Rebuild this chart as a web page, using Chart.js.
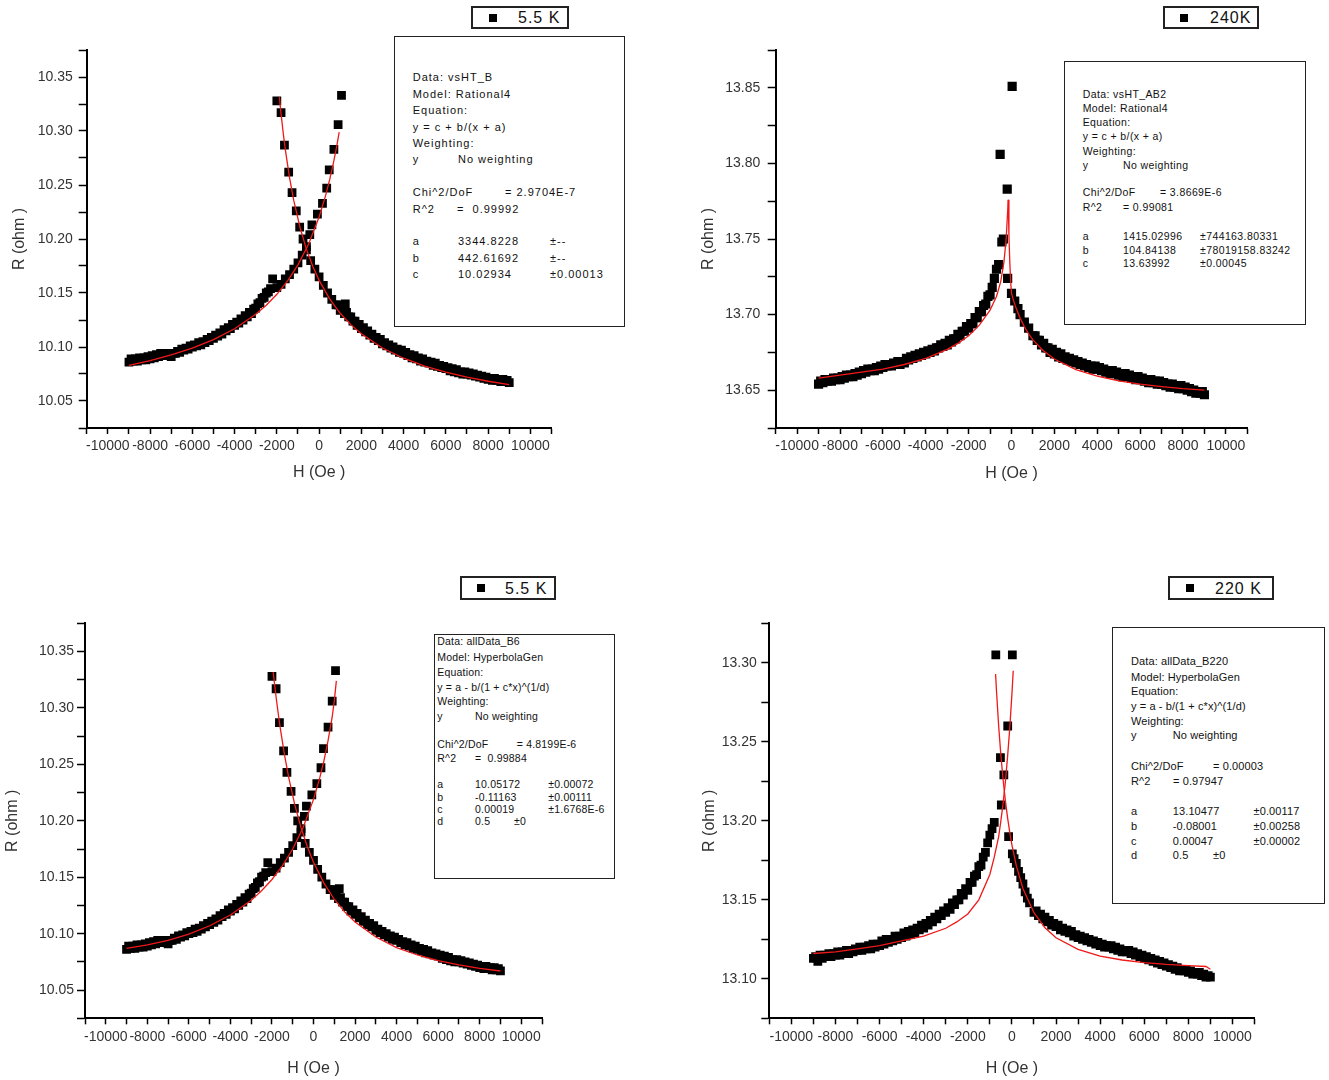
<!DOCTYPE html>
<html><head><meta charset="utf-8">
<script src="https://cdn.jsdelivr.net/npm/chart.js@4.4.1/dist/chart.umd.min.js"></script>
<style>
html,body{margin:0;padding:0;background:#fff;}
body{width:1329px;height:1080px;position:relative;overflow:hidden;font-family:"Liberation Sans",Arial,sans-serif;}
canvas{position:absolute;}
.box{position:absolute;border:1.5px solid #222;background:#fff;box-sizing:border-box;}
.leg{position:absolute;border:2px solid #222;background:#fff;box-sizing:border-box;}
.t{position:absolute;white-space:pre;color:#111;line-height:1;}
.sq{position:absolute;background:#000;}
</style></head><body>
<script>
// ---------- DATA ----------
// Panel 1 & 3 (5.5 K): field sweep up (rising branch) and sweep down (falling branch)
const p1RiseH = [-9000,-8800,-8600,-8400,-8200,-8000,-7800,-7600,-7400,-7200,-7000,-6800,-6600,-6400,-6200,-6000,-5800,-5600,-5400,-5200,-5000,-4800,-4600,-4400,-4200,-4000,-3800,-3600,-3400,-3200,-3000,-2800,-2600,-2400,-2200,-2000,-1800,-1600,-1400,-1200,-1000,-800,-600,-440,-340,-80,160,360,480,700,900,1060];
const p1RiseR = [10.086,10.087,10.087,10.088,10.088,10.089,10.090,10.091,10.092,10.092,10.091,10.094,10.095,10.097,10.098,10.100,10.101,10.102,10.104,10.106,10.108,10.110,10.112,10.115,10.117,10.120,10.122,10.125,10.128,10.131,10.136,10.141,10.146,10.151,10.163,10.155,10.158,10.163,10.167,10.172,10.178,10.185,10.193,10.204,10.213,10.223,10.233,10.247,10.264,10.283,10.306,10.333];
const p1Rise2H = [-8900,-8700,-8500,-8300,-8100,-7900,-7700,-7500,-7300,-7100,-6900,-6700,-6500,-6300,-6100,-5900,-5700,-5500,-5300,-5100,-4900,-4700,-4500,-4300,-4100,-3900,-3700,-3500,-3300,-3100,-2900,-2700,-2500,-2300];
const p1Rise2R = [10.089,10.089,10.090,10.090,10.091,10.092,10.093,10.094,10.094,10.093,10.094,10.096,10.098,10.099,10.101,10.102,10.104,10.105,10.107,10.109,10.111,10.113,10.116,10.118,10.121,10.123,10.126,10.129,10.132,10.135,10.140,10.145,10.150,10.154];
const p1FallH = [9000,8800,8600,8400,8200,8000,7800,7600,7400,7200,7000,6800,6600,6400,6200,6000,5800,5600,5400,5200,5000,4800,4600,4400,4200,4000,3800,3600,3400,3200,3000,2800,2600,2400,2200,2000,1800,1600,1400,1240,1200,1000,800,600,400,200,0,-200,-400,-600,-760,-920,-1080,-1280,-1440,-1640,-1800,-2000];
const p1FallR = [10.067,10.068,10.068,10.069,10.069,10.070,10.071,10.072,10.073,10.074,10.075,10.075,10.076,10.077,10.078,10.080,10.081,10.082,10.083,10.085,10.086,10.087,10.089,10.090,10.092,10.094,10.095,10.097,10.099,10.101,10.103,10.106,10.108,10.111,10.114,10.117,10.120,10.124,10.128,10.140,10.131,10.134,10.139,10.144,10.150,10.157,10.165,10.172,10.180,10.190,10.200,10.211,10.226,10.243,10.262,10.287,10.317,10.328];
const p1Fall2H = [8900,8700,8500,8300,8100,7900,7700,7500,7300,7100,6900,6700,6500,6300,6100,5900,5700,5500,5300,5100,4900,4700,4500,4300,4100,3900,3700,3500,3300,3100,2900,2700,2500,2300,2100,1900,1700,1500,1300,1100,900];
const p1Fall2R = [10.069,10.070,10.070,10.071,10.071,10.072,10.073,10.074,10.075,10.076,10.077,10.077,10.079,10.080,10.081,10.082,10.083,10.085,10.086,10.087,10.089,10.090,10.092,10.093,10.095,10.097,10.098,10.100,10.102,10.104,10.107,10.109,10.112,10.115,10.118,10.121,10.124,10.128,10.132,10.135,10.139];
// Panel 1 fit curves (Rational4)
const p1FitRiseH = [-9000,-8000,-7000,-6000,-5000,-4000,-3000,-2500,-2000,-1500,-1000,-500,0,300,500,700,800,900,950];
const p1FitRiseR = [10.0830,10.0874,10.0926,10.0989,10.1068,10.1169,10.1303,10.1387,10.1488,10.1610,10.1761,10.1952,10.2204,10.2397,10.2549,10.2725,10.2824,10.2932,10.2990];
const p1FitFallH = [9000,8000,7000,6000,5000,4000,3000,2000,1500,1000,500,0,-300,-600,-900,-1200,-1400,-1600,-1700,-1800,-1850,-1880];
const p1FitFallR = [10.0652,10.0683,10.0721,10.0767,10.0824,10.0896,10.0991,10.1122,10.1207,10.1312,10.1445,10.1617,10.1747,10.1906,10.2104,10.2357,10.2569,10.2830,10.2984,10.3158,10.3254,10.3315];
// Panel 3 fit curves (HyperbolaGen), same measured data as panel 1
const p3FitRiseH = [-9000,-8000,-7000,-6000,-5000,-4000,-3000,-2500,-2000,-1500,-1000,-500,0,300,500,700,900,1000,1100];
const p3FitRiseR = [10.087,10.090,10.094,10.0995,10.107,10.1165,10.1295,10.138,10.148,10.160,10.175,10.194,10.219,10.238,10.253,10.271,10.292,10.306,10.324];
const p3FitFallH = [9000,8000,7000,6000,5000,4000,3000,2000,1500,1000,500,0,-300,-600,-900,-1200,-1400,-1600,-1700,-1800,-1870,-1940];
const p3FitFallR = [10.0669,10.0693,10.0723,10.0761,10.0811,10.0877,10.0970,10.1103,10.1193,10.1305,10.1448,10.1633,10.1772,10.1939,10.2141,10.2390,10.2589,10.2821,10.2953,10.3095,10.3203,10.3317];
// Panel 2 (240 K)
const p2H = [-9000,-8800,-8600,-8400,-8200,-8000,-7800,-7600,-7400,-7200,-7000,-6800,-6600,-6400,-6200,-6000,-5800,-5600,-5400,-5200,-5000,-4800,-4600,-4400,-4200,-4000,-3800,-3600,-3400,-3200,-3000,-2800,-2600,-2400,-2200,-2000,-1800,-1600,-1400,-1200,-1000,-900,-800,-700,-600,-530,-450,-380,-200,-180,0,30,150,300,400,600,800,1000,1200,1400,1600,1800,2000,2200,2400,2600,2800,3000,3200,3400,3600,3800,4000,4200,4400,4600,4800,5000,5200,5400,5600,5800,6000,6200,6400,6600,6800,7000,7200,7400,7600,7800,8000,8200,8400,8600,8800,9000];
const p2R = [13.654,13.655,13.656,13.656,13.657,13.657,13.658,13.659,13.659,13.660,13.661,13.662,13.663,13.663,13.664,13.665,13.666,13.666,13.667,13.667,13.668,13.670,13.671,13.672,13.673,13.674,13.675,13.676,13.678,13.679,13.680,13.682,13.684,13.686,13.689,13.691,13.694,13.698,13.702,13.707,13.713,13.718,13.724,13.730,13.733,13.806,13.748,13.750,13.783,13.724,13.714,13.851,13.709,13.704,13.700,13.695,13.691,13.686,13.683,13.680,13.678,13.675,13.674,13.672,13.671,13.670,13.669,13.668,13.667,13.666,13.665,13.664,13.664,13.663,13.662,13.661,13.661,13.660,13.659,13.659,13.658,13.657,13.657,13.656,13.655,13.655,13.654,13.654,13.653,13.652,13.652,13.651,13.651,13.650,13.649,13.648,13.648,13.647];
const p2SecondH = [-8900,-8700,-8500,-8300,-8100,-7900,-7700,-7500,-7300,-7100,-6900,-6700,-6500,-6300,-6100,-5900,-5700,-5500,-5300,-5100,-4900,-4700,-4500,-4300,-4100,-3900,-3700,-3500,-3300,-3100,-2900,-2700,-2500,-2300,-2100,-1900,-1700,-1500,-1300,-1100,1100,1300,1500,1700,1900,2100,2300,2500,2700,2900,3100,3300,3500,3700,3900,4100,4300,4500,4700,4900,5100,5300,5500,5700,5900,6100,6300,6500,6700,6900,7100,7300,7500,7700,7900,8100,8300,8500,8700,8900];
const p2SecondR = [13.656,13.657,13.657,13.658,13.658,13.659,13.660,13.660,13.661,13.662,13.663,13.664,13.664,13.665,13.666,13.667,13.667,13.668,13.669,13.669,13.671,13.672,13.673,13.674,13.675,13.676,13.677,13.678,13.680,13.681,13.683,13.684,13.687,13.689,13.692,13.694,13.698,13.702,13.706,13.712,13.686,13.683,13.681,13.678,13.677,13.675,13.674,13.672,13.671,13.670,13.669,13.668,13.667,13.666,13.666,13.665,13.664,13.663,13.663,13.662,13.661,13.661,13.660,13.659,13.659,13.658,13.657,13.657,13.656,13.656,13.655,13.654,13.654,13.653,13.653,13.652,13.651,13.650,13.649,13.649];
const p2FitLeftH = [-9000,-8000,-7000,-6000,-5000,-4000,-3000,-2500,-2000,-1500,-1000,-700,-500,-350,-250,-180,-150];
const p2FitLeftR = [13.658,13.660,13.662,13.664,13.667,13.671,13.677,13.681,13.686,13.693,13.703,13.712,13.722,13.735,13.750,13.768,13.776];
const p2FitRightH = [-150,-120,-80,-40,0,100,200,400,600,800,1000,1500,2000,3000,4000,5000,6000,7000,8000,9000];
const p2FitRightR = [13.776,13.752,13.735,13.722,13.714,13.7091,13.7048,13.6977,13.6919,13.6872,13.6833,13.6759,13.6706,13.6636,13.6593,13.6562,13.6540,13.6524,13.6510,13.6500];
// Panel 4 (220 K)
const p4H = [-9000,-8800,-8600,-8400,-8200,-8000,-7800,-7600,-7400,-7200,-7000,-6800,-6600,-6400,-6200,-6000,-5800,-5600,-5400,-5200,-5000,-4800,-4600,-4400,-4200,-4000,-3800,-3600,-3400,-3200,-3000,-2800,-2600,-2400,-2200,-2000,-1800,-1600,-1400,-1200,-1000,-900,-800,-730,-520,-480,-365,-190,20,-150,20,100,200,300,400,500,600,700,800,1000,1200,1400,1600,1800,2000,2200,2400,2600,2800,3000,3200,3400,3600,3800,4000,4200,4400,4600,4800,5000,5200,5400,5600,5800,6000,6200,6400,6600,6800,7000,7200,7400,7600,7800,8000,8200,8400,8600,8800,9000];
const p4R = [13.113,13.111,13.113,13.114,13.114,13.115,13.115,13.116,13.116,13.117,13.118,13.118,13.119,13.119,13.120,13.121,13.122,13.123,13.124,13.125,13.126,13.127,13.128,13.129,13.131,13.132,13.134,13.136,13.138,13.140,13.142,13.144,13.147,13.150,13.153,13.156,13.161,13.166,13.172,13.180,13.191,13.195,13.199,13.305,13.240,13.210,13.229,13.260,13.305,13.190,13.179,13.176,13.173,13.168,13.164,13.160,13.155,13.151,13.148,13.142,13.140,13.138,13.136,13.134,13.133,13.131,13.130,13.129,13.127,13.126,13.125,13.124,13.123,13.122,13.121,13.120,13.120,13.119,13.118,13.117,13.117,13.116,13.115,13.114,13.113,13.112,13.111,13.110,13.109,13.108,13.107,13.106,13.105,13.105,13.104,13.103,13.103,13.102,13.101,13.101];
const p4SecondH = [-8900,-8700,-8500,-8300,-8100,-7900,-7700,-7500,-7300,-7100,-6900,-6700,-6500,-6300,-6100,-5900,-5700,-5500,-5300,-5100,-4900,-4700,-4500,-4300,-4100,-3900,-3700,-3500,-3300,-3100,-2900,-2700,-2500,-2300,-2100,-1900,-1700,-1500,-1300,-1100,1100,1300,1500,1700,1900,2100,2300,2500,2700,2900,3100,3300,3500,3700,3900,4100,4300,4500,4700,4900,5100,5300,5500,5700,5900,6100,6300,6500,6700,6900,7100,7300,7500,7700,7900,8100,8300,8500,8700,8900];
const p4SecondR = [13.114,13.115,13.115,13.116,13.116,13.117,13.117,13.118,13.118,13.119,13.120,13.120,13.121,13.122,13.122,13.124,13.125,13.125,13.127,13.127,13.129,13.130,13.131,13.132,13.134,13.135,13.137,13.139,13.141,13.143,13.145,13.148,13.150,13.154,13.157,13.161,13.165,13.171,13.177,13.186,13.143,13.141,13.139,13.137,13.135,13.134,13.132,13.131,13.130,13.128,13.127,13.126,13.125,13.124,13.123,13.122,13.121,13.121,13.120,13.119,13.118,13.118,13.117,13.116,13.115,13.114,13.113,13.112,13.111,13.110,13.109,13.108,13.107,13.106,13.106,13.105,13.104,13.104,13.103,13.102];
const p4FitLeftH = [-9000,-8000,-7000,-6000,-5000,-4000,-3000,-2500,-2000,-1500,-1000,-800,-600,-500,-400,-300,-200,-100,0,60];
const p4FitLeftR = [13.116,13.117,13.119,13.121,13.124,13.127,13.132,13.136,13.141,13.150,13.166,13.177,13.190,13.200,13.211,13.224,13.240,13.258,13.280,13.295];
const p4FitRightH = [-740,-700,-600,-500,-400,-300,-200,-100,0,200,500,1000,1500,2000,3000,4000,5000,6000,7000,8000,8800,9000];
const p4FitRightR = [13.2929,13.2825,13.2600,13.2415,13.2261,13.2132,13.2023,13.1929,13.1848,13.1716,13.1572,13.1418,13.1323,13.1260,13.1186,13.1144,13.1119,13.1103,13.1091,13.1083,13.1078,13.1060];
// Axis ranges and tick steps
const xRange = [-11000, 11000];
const xStep = 1000, xLabelStep = 2000, xLabelMax = 10000;
const yRange1 = [10.025, 10.375];
const yRange2 = [13.625, 13.875];
const yRange4 = [13.075, 13.325];
const yStep = 0.025, yLabelStep = 0.05;

// ---------- helpers ----------
const FONT = "'Liberation Sans', Arial, sans-serif";
function pts(H, R) { return H.map((h, i) => ({x: h, y: R[i]})); }
function fitSet(H, R) {
  return {data: pts(H, R), showLine: true, borderColor: '#f01818', borderWidth: 1.3,
          pointRadius: 0, pointHoverRadius: 0, fill: false, tension: 0, order: 0};
}
function dataSet(H, R, r) {
  return {data: pts(H, R), showLine: false, pointStyle: 'rect', pointRadius: r, pointHoverRadius: r,
          pointBackgroundColor: '#000', pointBorderColor: '#000', pointBorderWidth: 0,
          backgroundColor: '#000', borderWidth: 0, order: 1};
}
function xLabel(v) { return (Math.abs(v) <= xLabelMax && Math.abs(v % xLabelStep) < 1e-6) ? String(v) : ''; }
function yLabel(v) { const k = v / yLabelStep; return Math.abs(k - Math.round(k)) < 1e-6 ? v.toFixed(2) : ''; }

function makePanel(c) {
  const cv = document.createElement('canvas');
  cv.width = c.w; cv.height = c.h;
  cv.style.left = c.x0 + 'px'; cv.style.top = c.y0 + 'px';
  cv.style.width = c.w + 'px'; cv.style.height = c.h + 'px';
  document.body.appendChild(cv);
  const nY = Math.round((c.yr[1] - c.yr[0]) / yStep);
  const nX = Math.round((xRange[1] - xRange[0]) / xStep);
  new Chart(cv, {
    type: 'scatter',
    data: {datasets: c.datasets},
    options: {
      responsive: false, animation: false, devicePixelRatio: 1,
      layout: {padding: {left: c.pl, top: c.pt, right: c.pr, bottom: c.pb}},
      plugins: {legend: {display: false}, tooltip: {enabled: false}},
      scales: {
        x: {type: 'linear', position: 'bottom', min: xRange[0], max: xRange[1],
            ticks: {stepSize: xStep, maxTicksLimit: nX + 6, autoSkip: false, maxRotation: 0, minRotation: 0,
                    padding: 4, color: '#333', font: {family: FONT, size: 14}, callback: xLabel},
            grid: {display: true, drawOnChartArea: false, drawTicks: true, tickLength: 6, tickColor: '#000', tickWidth: 1.5},
            border: {display: true, color: '#000', width: 2},
            title: {display: true, text: 'H (Oe )', color: '#333', font: {family: FONT, size: 16}, padding: 0},
            afterFit: s => { s.height = c.xh; }},
        y: {type: 'linear', position: 'left', min: c.yr[0], max: c.yr[1],
            ticks: {stepSize: yStep, maxTicksLimit: nY + 6, autoSkip: false,
                    padding: c.yPad, color: '#333', font: {family: FONT, size: 14}, callback: yLabel},
            grid: {display: true, drawOnChartArea: false, drawTicks: true, tickLength: 8, tickColor: '#000', tickWidth: 1.5},
            border: {display: true, color: '#000', width: 2},
            title: {display: true, text: 'R (ohm )', color: '#333', font: {family: FONT, size: 16}, padding: 0},
            afterFit: s => { s.width = c.yw; }}
      }
    }
  });
}

const R = 6.2;
makePanel({x0: 0, y0: 0, w: 660, h: 500, pl: 10, pt: 50, pr: 108.5, pb: 17.9, yw: 76.7, xh: 54.1, yPad: 6, yr: yRange1,
  datasets: [fitSet(p1FitRiseH, p1FitRiseR), fitSet(p1FitFallH, p1FitFallR),
             dataSet(p1RiseH, p1RiseR, R), dataSet(p1Rise2H, p1Rise2R, R), dataSet(p1FallH, p1FallR, R), dataSet(p1Fall2H, p1Fall2R, R)]});
makePanel({x0: 660, y0: 0, w: 669, h: 500, pl: 39.4, pt: 50, pr: 81.7, pb: 16.4, yw: 76.3, xh: 55.6, yPad: 7.5, yr: yRange2,
  datasets: [fitSet(p2FitLeftH, p2FitLeftR), fitSet(p2FitRightH, p2FitRightR), dataSet(p2H, p2R, 6.5), dataSet(p2SecondH, p2SecondR, 6.5)]});
makePanel({x0: 0, y0: 570, w: 660, h: 510, pl: 3.4, pt: 53.3, pr: 118, pb: 2.1, yw: 81.6, xh: 59.6, yPad: 3, yr: yRange1,
  datasets: [fitSet(p3FitRiseH, p3FitRiseR), fitSet(p3FitFallH, p3FitFallR),
             dataSet(p1RiseH, p1RiseR, R), dataSet(p1Rise2H, p1Rise2R, R), dataSet(p1FallH, p1FallR, R), dataSet(p1Fall2H, p1Fall2R, R)]});
makePanel({x0: 660, y0: 570, w: 669, h: 510, pl: 39.7, pt: 53.3, pr: 74.5, pb: 2.1, yw: 69.6, xh: 59.6, yPad: 4.5, yr: yRange4,
  datasets: [fitSet(p4FitLeftH, p4FitLeftR), fitSet(p4FitRightH, p4FitRightR), dataSet(p4H, p4R, R), dataSet(p4SecondH, p4SecondR, R)]});

// ---------- legend boxes and fit-result boxes ----------
function addText(x, yc, str, size, ls) {
  const d = document.createElement('div');
  d.className = 't';
  d.textContent = str;
  d.style.left = x + 'px';
  d.style.top = (yc - 0.4885 * size) + 'px';
  d.style.fontSize = size + 'px';
  d.style.letterSpacing = ls + 'px';
  document.body.appendChild(d);
}
function addBox(cls, x, y, w, h) {
  const d = document.createElement('div');
  d.className = cls;
  d.style.left = x + 'px'; d.style.top = y + 'px'; d.style.width = w + 'px'; d.style.height = h + 'px';
  document.body.appendChild(d);
}
const legends = [
  {x: 471, y: 6, w: 98, h: 23, sx: 493, sy: 17.5, tx: 518, ty: 18, text: '5.5 K'},
  {x: 1163, y: 6, w: 96, h: 23, sx: 1184, sy: 17.5, tx: 1210, ty: 18, text: '240K'},
  {x: 460, y: 576, w: 96, h: 24, sx: 481, sy: 588, tx: 505, ty: 588.5, text: '5.5 K'},
  {x: 1168, y: 576, w: 106, h: 24, sx: 1190, sy: 588, tx: 1215, ty: 588.5, text: '220 K'}
];
legends.forEach(l => {
  addBox('leg', l.x, l.y, l.w, l.h);
  const s = document.createElement('div');
  s.className = 'sq';
  s.style.left = (l.sx - 4) + 'px'; s.style.top = (l.sy - 4) + 'px';
  s.style.width = '8px'; s.style.height = '8px';
  document.body.appendChild(s);
  addText(l.tx, l.ty, l.text, 16, 1);
});

const fitBoxes = [
  {x: 394, y: 36, w: 231, h: 291, size: 11, ls: 1, rows: [
    [77.7, [412.7, 'Data: vsHT_B']],
    [94.1, [412.7, 'Model: Rational4']],
    [110.5, [412.7, 'Equation:']],
    [126.9, [412.7, 'y = c + b/(x + a)']],
    [143.3, [412.7, 'Weighting:']],
    [159.7, [412.7, 'y'], [458, 'No weighting']],
    [192.5, [412.7, 'Chi^2/DoF'], [505, '= 2.9704E-7']],
    [208.9, [412.7, 'R^2'], [457, '=  0.99992']],
    [241.7, [412.7, 'a'], [458, '3344.8228'], [550, '±--']],
    [258.1, [412.7, 'b'], [458, '442.61692'], [550, '±--']],
    [274.5, [412.7, 'c'], [458, '10.02934'], [550, '±0.00013']]]},
  {x: 1064, y: 61, w: 242, h: 264, size: 10.5, ls: 0.4, rows: [
    [94.3, [1082.7, 'Data: vsHT_AB2']],
    [108.4, [1082.7, 'Model: Rational4']],
    [122.5, [1082.7, 'Equation:']],
    [136.6, [1082.7, 'y = c + b/(x + a)']],
    [150.7, [1082.7, 'Weighting:']],
    [164.8, [1082.7, 'y'], [1123, 'No weighting']],
    [192.3, [1082.7, 'Chi^2/DoF'], [1160, '= 3.8669E-6']],
    [207.2, [1082.7, 'R^2'], [1123, '= 0.99081']],
    [236.0, [1082.7, 'a'], [1123, '1415.02996'], [1200, '±744163.80331']],
    [249.8, [1082.7, 'b'], [1123, '104.84138'], [1200, '±78019158.83242']],
    [263.5, [1082.7, 'c'], [1123, '13.63992'], [1200, '±0.00045']]]},
  {x: 434, y: 634, w: 181, h: 245, size: 10.5, ls: 0.2, rows: [
    [640.7, [437.3, 'Data: allData_B6']],
    [657.3, [437.3, 'Model: HyperbolaGen']],
    [672.3, [437.3, 'Equation:']],
    [686.7, [437.3, 'y = a - b/(1 + c*x)^(1/d)']],
    [700.7, [437.3, 'Weighting:']],
    [715.7, [437.3, 'y'], [475, 'No weighting']],
    [744.0, [437.3, 'Chi^2/DoF'], [516.7, '= 4.8199E-6']],
    [758.3, [437.3, 'R^2'], [475, '=  0.99884']],
    [784.3, [437.3, 'a'], [475, '10.05172'], [548.3, '±0.00072']],
    [796.7, [437.3, 'b'], [475, '-0.11163'], [548.3, '±0.00111']],
    [809.0, [437.3, 'c'], [475, '0.00019'], [548.3, '±1.6768E-6']],
    [821.0, [437.3, 'd'], [475, '0.5'], [514, '±0']]]},
  {x: 1111.5, y: 627.3, w: 213, h: 277, size: 11, ls: 0.1, rows: [
    [661.7, [1131, 'Data: allData_B220']],
    [677.3, [1131, 'Model: HyperbolaGen']],
    [691.7, [1131, 'Equation:']],
    [706.0, [1131, 'y = a - b/(1 + c*x)^(1/d)']],
    [721.7, [1131, 'Weighting:']],
    [735.7, [1131, 'y'], [1172.8, 'No weighting']],
    [766.0, [1131, 'Chi^2/DoF'], [1213, '= 0.00003']],
    [781.7, [1131, 'R^2'], [1173, '= 0.97947']],
    [811.0, [1131, 'a'], [1172.8, '13.10477'], [1253.6, '±0.00117']],
    [826.0, [1131, 'b'], [1172.8, '-0.08001'], [1253.6, '±0.00258']],
    [841.0, [1131, 'c'], [1172.8, '0.00047'], [1253.6, '±0.00002']],
    [855.7, [1131, 'd'], [1172.8, '0.5'], [1213, '±0']]]}
];
fitBoxes.forEach(b => {
  addBox('box', b.x, b.y, b.w, b.h);
  b.rows.forEach(r => {
    for (let i = 1; i < r.length; i++) addText(r[i][0], r[0], r[i][1], b.size, b.ls);
  });
});
</script>
</body></html>
